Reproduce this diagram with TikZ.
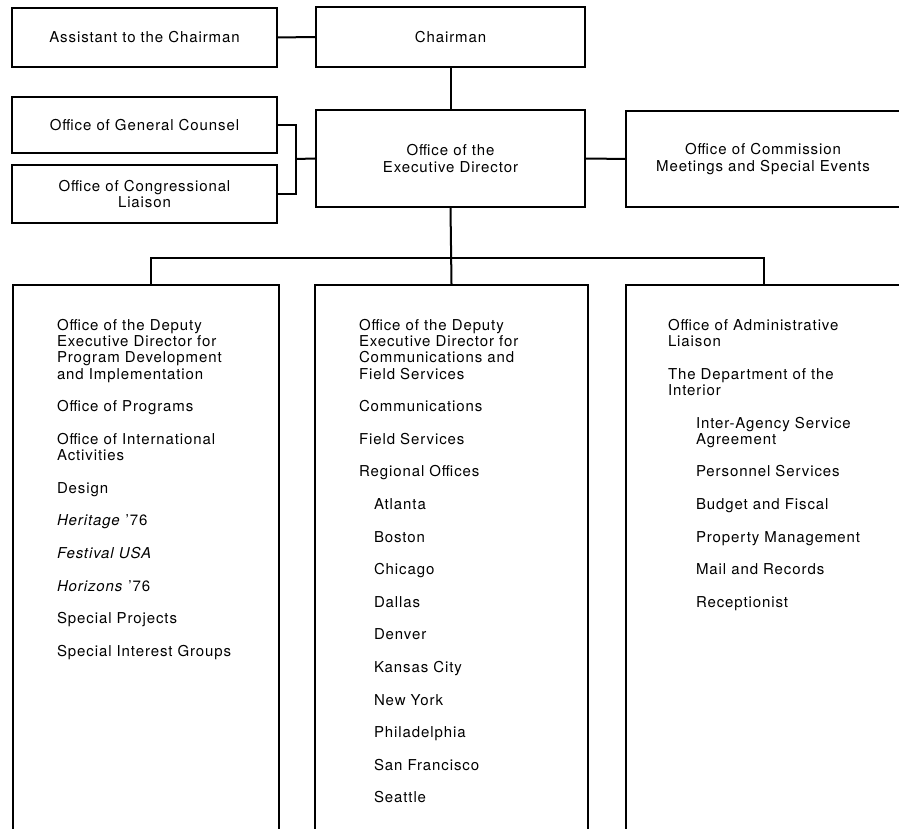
\documentclass[tikz,border=0pt]{standalone}
\usepackage{fontspec}
\setmainfont[LetterSpace=6]{TeX Gyre Heros}
\usetikzlibrary{positioning}

\begin{document}
\begin{tikzpicture}[x=1pt,y=-1pt,line width=2pt,
	font=\fontsize{15}{16.3}\selectfont,
	unit/.style={draw,rectangle,align=center,inner sep=0pt},
	column/.style={draw,rectangle,anchor=north west,minimum height=600},
	list/.style={anchor=north west,align=left,inner sep=0pt}]
	\clip (0,0) rectangle (899,829);
	% top of the chart
	\node [unit,minimum width=265,minimum height=59] (asst) at (144.5,37.5) {Assistant to the Chairman};
	\node [unit,minimum width=269,minimum height=60] (chair) at (450.5,37) {Chairman};
	\node [unit,minimum width=269,minimum height=97] (exec) at (450.5,158.5) {Office of the\\Executive Director};
	\node [unit,minimum width=265,minimum height=56] (counsel) at (144.5,125) {Office of General Counsel};
	\node [unit,minimum width=265,minimum height=58] (congress) at (144.5,194) {Office of Congressional\\Liaison};
	\node [unit,minimum width=274,minimum height=96] (events) at (763,159) {Office of Commission\\Meetings and Special Events};
	\draw (asst) -- (chair);
	\draw (chair) -- (exec);
	\draw (exec) -- (events);
	\coordinate (brk) at (296,159);
	\draw (counsel.east) -| (brk) |- (congress.east);
	\draw (brk) -- (exec.west);
	% the three columns
	\node [column,minimum width=266] (progcol) at (12,284) {};
	\node [column,minimum width=273] (commcol) at (314,284) {};
	\node [column,minimum width=275] (admincol) at (625,284) {};
	\coordinate (bus) at (450,258);
	\draw (exec.south) -- (commcol.north);
	\draw ([xshift=5pt]progcol.north) |- (bus) -| (admincol.north);
	\node [list] (proglist) at (56,318) {Office of the Deputy\\Executive Director for\\Program Development\\and Implementation\\[16.3pt]
		Office of Programs\\[16.3pt]
		Office of International\\Activities\\[16.3pt]
		Design\\[16.3pt]
		\textit{Heritage} ’76\\[16.3pt]
		\textit{Festival USA}\\[16.3pt]
		\textit{Horizons} ’76\\[16.3pt]
		Special Projects\\[16.3pt]
		Special Interest Groups};
	\node [list] (commlist) at (358,318) {Office of the Deputy\\Executive Director for\\Communications and\\Field Services\\[16.3pt]
		Communications\\[16.3pt]
		Field Services\\[16.3pt]
		Regional Offices\\[16.3pt]
		\hspace*{15pt}Atlanta\\[16.3pt]
		\hspace*{15pt}Boston\\[16.3pt]
		\hspace*{15pt}Chicago\\[16.3pt]
		\hspace*{15pt}Dallas\\[16.3pt]
		\hspace*{15pt}Denver\\[16.3pt]
		\hspace*{15pt}Kansas City\\[16.3pt]
		\hspace*{15pt}New York\\[16.3pt]
		\hspace*{15pt}Philadelphia\\[16.3pt]
		\hspace*{15pt}San Francisco\\[16.3pt]
		\hspace*{15pt}Seattle};
	\node [list] (adminlist) at (667,318) {Office of Administrative\\Liaison\\[16.3pt]
		The Department of the\\Interior\\[16.3pt]
		\hspace*{28pt}Inter-Agency Service\\\hspace*{28pt}Agreement\\[16.3pt]
		\hspace*{28pt}Personnel Services\\[16.3pt]
		\hspace*{28pt}Budget and Fiscal\\[16.3pt]
		\hspace*{28pt}Property Management\\[16.3pt]
		\hspace*{28pt}Mail and Records\\[16.3pt]
		\hspace*{28pt}Receptionist};
\end{tikzpicture}
\end{document}
